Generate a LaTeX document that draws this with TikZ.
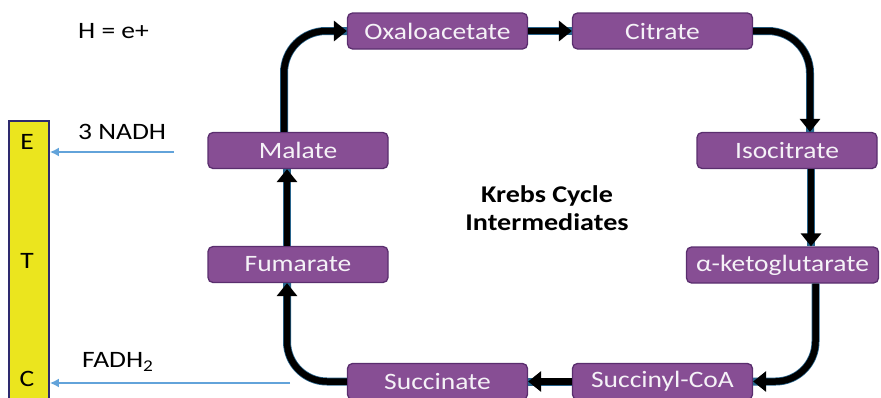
\documentclass[tikz,border=0pt]{standalone}
\usepackage{fontspec}
\setmainfont{Carlito}[FakeStretch=1.17]
\usetikzlibrary{arrows.meta}
\definecolor{boxfill}{HTML}{874E94}
\definecolor{boxline}{HTML}{5A2E6E}
\definecolor{etcyellow}{HTML}{EBE51E}
\definecolor{etcline}{HTML}{2E2A6E}
\definecolor{bluearr}{HTML}{62A3DA}
\begin{document}
\begin{tikzpicture}[x=1pt,y=-1pt,
  font=\fontsize{23.5}{27}\selectfont,
  stepbox/.style={draw=boxline,line width=1.3pt,fill=boxfill,rounded corners=5pt,
    minimum width=180pt,minimum height=36pt,inner sep=0pt,text={rgb,255:red,245;green,242;blue,247}},
  conn/.style={line width=6.5pt,draw=black,
    -{Triangle[width=20pt,length=13pt]},
    preaction={draw={rgb,255:red,40;green,100;blue,140},line width=8pt,-{}}},
  etcbar/.style={draw=etcline,line width=1.8pt,fill=etcyellow,minimum width=40pt,
    minimum height=290pt,inner sep=0pt},
  lbl/.style={text=black,inner sep=0pt},
  feed/.style={draw=bluearr,line width=1.6pt,-{Latex[width=9pt,length=9pt]}}]
\useasboundingbox (0,0) rectangle (881,397);
\begin{scope}
\clip (0,0) rectangle (881,397);
% ETC bar
\node[etcbar] (etc) at (29,266) {};
\node[lbl] (e) at (27,142) {E};
\node[lbl] (t) at (27,261) {T};
\node[lbl] (c) at (27,379) {C};
% boxes
\node[stepbox] (oxa) at (437.5,31) {Oxaloacetate};
\node[stepbox] (cit) at (662.5,31) {Citrate};
\node[stepbox] (iso) at (787,150.5) {Isocitrate};
\node[stepbox,minimum width=192pt] (akg) at (782.5,265) {α-ketoglutarate};
\node[stepbox] (scoa) at (662.5,381.5) {Succinyl-CoA};
\node[stepbox] (succ) at (437.5,381.5) {Succinate};
\node[stepbox] (fum) at (298,264.5) {Fumarate};
\node[stepbox] (mal) at (298,150.5) {Malate};
% labels
\node[lbl,anchor=west] (heq) at (78,31) {H = e+};
\node[lbl,anchor=west] (nadh) at (78,132) {3 NADH};
\node[lbl,anchor=west] (fadh) at (82,362) {FADH\textsubscript{2}};
\node[lbl,font=\fontsize{24}{28}\selectfont\bfseries,align=center] (title) at (547,208)
  {Krebs Cycle\\Intermediates};
% connectors
\draw[conn,rounded corners=42pt] ([xshift=-14pt]mal.north) |- (oxa.west);
\draw[conn] (oxa.east) -- (cit.west);
\draw[conn,rounded corners=42pt] (cit.east) -| ([xshift=23pt]iso.north);
\draw[conn] ([xshift=24pt]iso.south) -- ([xshift=24pt]iso.south |- akg.north);
\draw[conn,rounded corners=40pt] ([xshift=33pt]akg.south) |- (scoa.east);
\draw[conn] (scoa.west) -- (succ.east);
\draw[conn,rounded corners=40pt] (succ.west) -| ([xshift=-11pt]fum.south);
\draw[conn] ([xshift=-11pt]fum.north) -- ([xshift=-11pt]mal.south);
% feeds to ETC
\coordinate (n1) at (174,152);
\coordinate (f1) at (290,383);
\draw[feed] (n1) -- (n1 -| etc.east);
\draw[feed] (f1) -- (f1 -| etc.east);
\end{scope}
\end{tikzpicture}
\end{document}
